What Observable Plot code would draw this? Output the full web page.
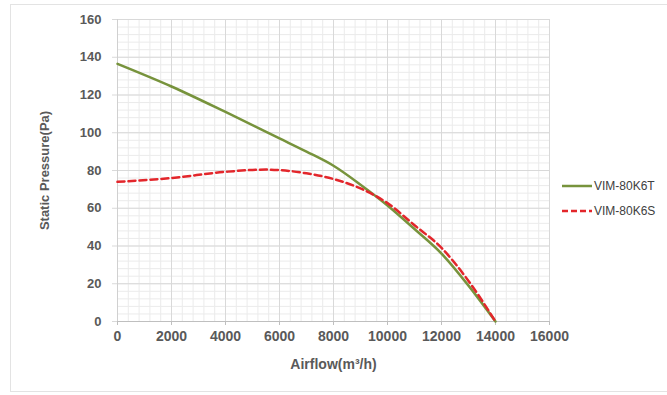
<!DOCTYPE html>
<html>
<head>
<meta charset="utf-8">
<script src="https://cdn.jsdelivr.net/npm/d3@7"></script>
<script src="https://cdn.jsdelivr.net/npm/@observablehq/plot@0.6"></script>
<style>
  html, body { margin: 0; padding: 0; background: #fff; overflow: hidden; }
  #wrap { position: relative; width: 667px; height: 395px; }
  #border { position: absolute; left: 10px; top: 4px; width: 680px; height: 388px; border: 1px solid #e3e3e3; box-sizing: border-box; }
  #legend { position: absolute; left: 562px; top: 173px; font-family: "Liberation Sans", Arial, sans-serif; font-size: 12px; color: #404040; }
  #legend .item { display: flex; align-items: center; height: 25px; }
  #legend svg { margin-right: 2px; }
</style>
</head>
<body>
<div id="wrap">
  <div id="border"></div>
  <div id="chart"></div>
  <div id="legend"></div>
</div>
<script>
// Series data
const airflowT = [0, 2000, 4000, 6000, 7000, 8000, 9000, 10000, 11000, 12000, 13000, 14000];
const pressureT = [136.5, 124.5, 111, 97, 90, 82.5, 72.5, 61.5, 49, 36, 19, 0];
const airflowS = [0, 2000, 4000, 5500, 6000, 7000, 8000, 9000, 10000, 11000, 12000, 13000, 14000];
const pressureS = [74, 76, 79.3, 80.5, 80.2, 78.5, 75.5, 70.5, 62.7, 51, 39, 21.5, 0];
const seriesNames = ["VIM-80K6T", "VIM-80K6S"];
const seriesColors = ["#77933C", "#E3262B"];

// Tick values
const xTicks = [0, 2000, 4000, 6000, 8000, 10000, 12000, 14000, 16000];
const yTicks = [0, 20, 40, 60, 80, 100, 120, 140, 160];

const dataT = airflowT.map((x, i) => ({x, y: pressureT[i]}));
const dataS = airflowS.map((x, i) => ({x, y: pressureS[i]}));
const xMinor = d3.range(0, 16001, 400);
const yMinor = d3.range(0, 161, 4);

const chart = Plot.plot({
  width: 667,
  height: 395,
  marginLeft: 117,
  marginRight: 118,
  marginTop: 19,
  marginBottom: 74,
  style: {fontFamily: "'Liberation Sans', Arial, sans-serif", fontSize: "14px", fontWeight: "bold", color: "#595959", background: "transparent"},
  x: {domain: [0, 16000]},
  y: {domain: [0, 160]},
  marks: [
    Plot.gridX(xMinor, {stroke: "#ebebeb", strokeOpacity: 1}),
    Plot.gridY(yMinor, {stroke: "#ebebeb", strokeOpacity: 1}),
    Plot.gridX(xTicks, {stroke: "#d9d9d9", strokeOpacity: 1}),
    Plot.gridY(yTicks, {stroke: "#d9d9d9", strokeOpacity: 1}),
    Plot.ruleY([0], {stroke: "#bfbfbf"}),
    Plot.ruleX([0], {stroke: "#d0d0d0"}),
    Plot.axisX(xTicks, {tickFormat: d => String(d), tickSize: 4, tickPadding: 6, stroke: "#bfbfbf", label: "Airflow(m³/h)", labelAnchor: "center", labelArrow: "none", labelOffset: 47, fontSize: 14, fontWeight: "bold", fill: "#595959"}),
    Plot.axisY(yTicks, {tickFormat: d => String(d), tickSize: 5, tickPadding: 11, stroke: "#d9d9d9", label: "Static Pressure(Pa)", labelAnchor: "center", labelArrow: "none", labelOffset: 78, fontSize: 13, fontWeight: "bold", fill: "#595959"}),
    Plot.line(dataT, {x: "x", y: "y", stroke: seriesColors[0], strokeWidth: 2.5, curve: "monotone-x"}),
    Plot.line(dataS, {x: "x", y: "y", stroke: seriesColors[1], strokeWidth: 2.5, strokeDasharray: "7,4", curve: "monotone-x"})
  ]
});
document.getElementById("chart").appendChild(chart);

// Legend
const legend = document.getElementById("legend");
seriesNames.forEach((name, i) => {
  const item = document.createElement("div");
  item.className = "item";
  item.innerHTML = `<svg width="30" height="6"><line x1="0" y1="3" x2="30" y2="3" stroke="${seriesColors[i]}" stroke-width="2.5" ${i === 1 ? 'stroke-dasharray="6,3"' : ''}/></svg><span>${name}</span>`;
  legend.appendChild(item);
});
</script>
</body>
</html>
